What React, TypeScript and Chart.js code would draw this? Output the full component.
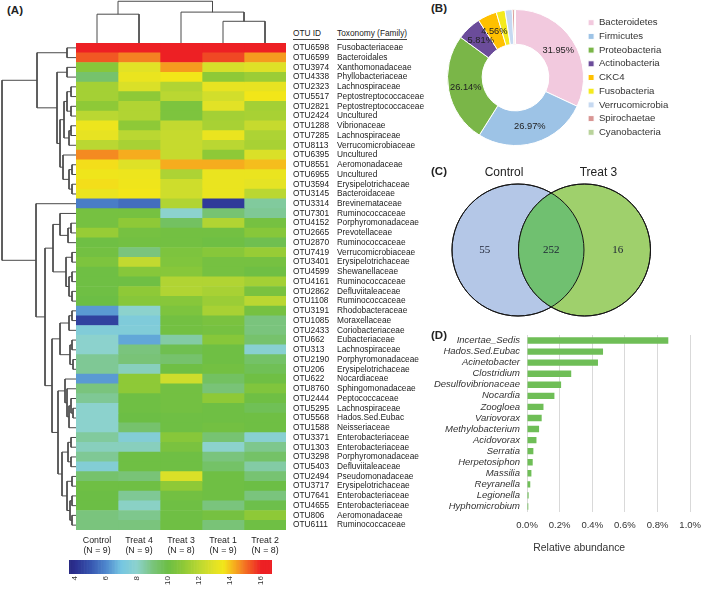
import React, { useEffect, useRef } from 'react';
import { Chart, registerables } from 'chart.js';

Chart.register(...registerables);

const SANS = "'Liberation Sans', Arial, Helvetica, sans-serif";
const NARROW = "'Liberation Sans Narrow', 'Arial Narrow', 'Liberation Sans', sans-serif";
const SERIF = "'Liberation Serif', 'Times New Roman', serif";
Chart.defaults.font.family = SANS;
Chart.defaults.color = '#222';

// ---------------- Panel A : heatmap ----------------
const groups = ['Control', 'Treat 4', 'Treat 3', 'Treat 1', 'Treat 2'];
const groupN = [9, 9, 8, 9, 8];

const otuIds = [
  'OTU6598', 'OTU6599', 'OTU3974', 'OTU4338', 'OTU2323', 'OTU5517', 'OTU2821', 'OTU2424', 'OTU1288', 'OTU7285',
  'OTU8113', 'OTU6395', 'OTU8551', 'OTU6955', 'OTU3594', 'OTU3145', 'OTU3314', 'OTU7301', 'OTU4152', 'OTU2665',
  'OTU2870', 'OTU7419', 'OTU3401', 'OTU4599', 'OTU4161', 'OTU2862', 'OTU1108', 'OTU3191', 'OTU1085', 'OTU2433',
  'OTU662', 'OTU313', 'OTU2190', 'OTU206', 'OTU622', 'OTU8760', 'OTU2444', 'OTU5295', 'OTU5568', 'OTU1588',
  'OTU3371', 'OTU1303', 'OTU3298', 'OTU5403', 'OTU2494', 'OTU3717', 'OTU7641', 'OTU4655', 'OTU806', 'OTU6111',
];

const families = [
  'Fusobacteriaceae', 'Bacteroidales', 'Xanthomonadaceae', 'Phyllobacteriaceae', 'Lachnospiraceae',
  'Peptostreptococcaceae', 'Peptostreptococcaceae', 'Uncultured', 'Vibrionaceae', 'Lachnospiraceae',
  'Verrucomicrobiaceae', 'Uncultured', 'Aeromonadaceae', 'Uncultured', 'Erysipelotrichaceae',
  'Bacteroidaceae', 'Brevinemataceae', 'Ruminococcaceae', 'Porphyromonadaceae', 'Prevotellaceae',
  'Ruminococcaceae', 'Verrucomicrobiaceae', 'Erysipelotrichaceae', 'Shewanellaceae', 'Ruminococcaceae',
  'Defluviitaleaceae', 'Ruminococcaceae', 'Rhodobacteraceae', 'Moraxellaceae', 'Coriobacteriaceae',
  'Eubacteriaceae', 'Lachnospiraceae', 'Porphyromonadaceae', 'Erysipelotrichaceae', 'Nocardiaceae',
  'Sphingomonadaceae', 'Peptococcaceae', 'Lachnospiraceae', 'Hados.Sed.Eubac', 'Neisseriaceae',
  'Enterobacteriaceae', 'Enterobacteriaceae', 'Porphyromonadaceae', 'Defluviitaleaceae', 'Pseudomonadaceae',
  'Erysipelotrichaceae', 'Enterobacteriaceae', 'Enterobacteriaceae', 'Aeromonadaceae', 'Ruminococcaceae',
];

// rows = OTUs, columns = Control, Treat 4, Treat 3, Treat 1, Treat 2
const heatValues = [
  [16.5, 16.5, 16.0, 16.5, 16.3],
  [15.3, 14.8, 16.0, 15.5, 14.5],
  [10.8, 13.0, 14.5, 12.7, 12.9],
  [9.3, 13.3, 13.6, 11.0, 11.3],
  [11.5, 12.8, 11.8, 13.2, 13.2],
  [11.5, 11.0, 12.0, 12.6, 13.6],
  [11.0, 11.8, 10.5, 13.0, 11.5],
  [12.0, 11.8, 10.5, 11.5, 11.6],
  [13.4, 11.0, 12.2, 11.6, 12.3],
  [13.2, 12.0, 12.3, 13.3, 11.7],
  [12.0, 11.6, 12.3, 12.0, 11.6],
  [14.7, 14.3, 12.3, 11.0, 12.8],
  [13.7, 12.9, 14.3, 14.3, 14.1],
  [13.5, 13.4, 11.7, 13.3, 13.3],
  [13.7, 13.5, 12.5, 13.3, 13.1],
  [13.3, 13.6, 12.5, 13.3, 12.0],
  [5.8, 5.5, 11.8, 4.3, 8.6],
  [10.3, 10.3, 8.0, 9.2, 8.7],
  [10.3, 11.0, 9.5, 11.8, 10.3],
  [11.2, 10.3, 10.2, 10.2, 10.8],
  [10.1, 10.2, 10.2, 10.1, 9.8],
  [10.2, 9.0, 10.5, 10.8, 11.2],
  [10.5, 12.2, 10.6, 10.3, 10.3],
  [10.1, 10.8, 10.8, 10.3, 10.1],
  [10.1, 10.1, 11.8, 11.8, 11.5],
  [10.1, 11.0, 11.8, 11.6, 10.4],
  [10.0, 10.8, 10.8, 11.3, 12.0],
  [6.3, 8.0, 10.5, 11.6, 10.3],
  [4.5, 7.4, 10.2, 10.4, 9.0],
  [7.5, 7.5, 10.2, 10.3, 9.0],
  [8.0, 6.5, 8.5, 10.8, 9.3],
  [8.0, 9.0, 9.8, 10.1, 7.8],
  [8.7, 9.1, 9.3, 10.1, 9.4],
  [8.7, 8.2, 10.1, 10.2, 9.7],
  [6.3, 11.0, 12.5, 9.5, 10.1],
  [9.0, 11.0, 10.2, 9.1, 10.6],
  [8.7, 10.1, 10.2, 11.0, 10.1],
  [8.0, 10.1, 10.2, 10.1, 9.7],
  [8.0, 10.0, 10.1, 10.1, 10.1],
  [8.0, 9.3, 10.1, 10.2, 10.1],
  [8.6, 7.6, 10.8, 9.2, 7.8],
  [8.2, 8.2, 10.4, 8.0, 8.8],
  [8.7, 10.1, 10.1, 9.0, 9.4],
  [7.6, 10.1, 10.1, 9.4, 8.5],
  [9.3, 9.1, 12.8, 10.1, 9.2],
  [10.1, 10.1, 11.0, 10.1, 10.0],
  [10.0, 8.7, 10.2, 10.1, 9.0],
  [10.0, 8.1, 10.1, 9.0, 9.9],
  [9.0, 8.8, 10.1, 10.3, 11.0],
  [9.0, 9.0, 10.1, 9.1, 10.1],
];

// linkage: [childA, childB, height]; child >= 0 is a leaf index, child < 0 is merge (-child - 1)
const colMerges = [
  [0, 1, 0.69],
  [3, 4, 0.52],
  [2, -2, 0.74],
  [-1, -3, 1.0],
];

const rowMerges = [
  [0, 1, 9], [2, 3, 9], [4, 5, 5], [6, 7, 5], [-3, -4, 9],
  [8, 9, 5], [-6, 10, 7], [-5, -7, 12], [12, 13, 4], [14, 15, 4],
  [-9, -10, 7], [11, -11, 13], [-8, -12, 16], [-2, -13, 19], [-1, -14, 39],
  [18, 19, 5], [-16, 20, 8], [17, -17, 16], [21, 22, 4], [23, 24, 4],
  [25, 26, 4], [-20, -21, 7], [-19, -22, 10], [-18, -23, 23], [27, 28, 4],
  [-25, 29, 7], [30, 31, 4], [32, 33, 3], [-27, -28, 6], [-26, -29, 16],
  [37, 38, 3], [36, -31, 5], [-32, 39, 7], [35, -33, 9], [34, -34, 11],
  [40, 41, 5], [42, 43, 5], [-36, -37, 8], [44, 45, 4], [46, 47, 4],
  [48, 49, 4], [-40, -41, 6], [-39, -42, 9], [-38, -43, 14], [-35, -44, 18],
  [-30, -45, 24], [-24, -46, 31], [16, -47, 40], [-15, -48, 74],
];

const colorbarTicks = [4, 6, 8, 10, 12, 14, 16];
const colorbarMin = 3.6;
const colorbarMax = 16.7;

// ---------------- Panel B : phyla ----------------
const phyla = ['Bacteroidetes', 'Firmicutes', 'Proteobacteria', 'Actinobacteria', 'CKC4', 'Fusobacteria', 'Verrucomicrobia', 'Spirochaetae', 'Cyanobacteria'];
const phylaPct = [31.95, 26.97, 26.14, 5.81, 4.56, 2.1, 1.7, 0.5, 0.27];
const phylaColors = ['#f2c9de', '#9dc3e6', '#7ab648', '#6b4c9a', '#ffc000', '#f4ea1e', '#c6d9f1', '#d99694', '#b9d39b'];

// ---------------- Panel C : Venn ----------------
const vennSets = ['Control', 'Treat 3'];
const vennCounts = [55, 252, 16];

// ---------------- Panel D : genera ----------------
const genera = ['Incertae_Sedis', 'Hados.Sed.Eubac', 'Acinetobacter', 'Clostridium', 'Desulfovibrionaceae', 'Nocardia', 'Zoogloea', 'Variovorax', 'Methylobacterium', 'Acidovorax', 'Serratia', 'Herpetosiphon', 'Massilia', 'Reyranella', 'Legionella', 'Hyphomicrobium'];
const abundance = [0.866, 0.466, 0.435, 0.271, 0.209, 0.168, 0.101, 0.09, 0.074, 0.058, 0.039, 0.035, 0.027, 0.02, 0.01, 0.008];
const abundanceTitle = 'Relative abundance';

// ---------------- helpers ----------------
const colorStops: [number, number[]][] = [
  [3.6, [40, 40, 128]], [4, [43, 47, 143]], [5, [55, 85, 175]], [6, [78, 135, 205]],
  [7, [118, 198, 226]], [8, [140, 210, 205]], [9, [122, 196, 125]], [10, [108, 190, 69]],
  [11, [142, 201, 55]], [12, [186, 215, 50]], [13, [226, 226, 38]], [13.6, [242, 230, 25]],
  [14.3, [246, 172, 30]], [15, [243, 112, 35]], [16, [237, 32, 36]],
];
const rgb = (c: number[]) => `rgb(${c.map((x) => Math.round(x)).join(',')})`;
function heatColor(v: number) {
  if (v <= colorStops[0][0]) return rgb(colorStops[0][1]);
  for (let k = 1; k < colorStops.length; k++) {
    const [v1, c1] = colorStops[k];
    if (v <= v1) {
      const [v0, c0] = colorStops[k - 1];
      const t = (v - v0) / (v1 - v0);
      return rgb(c0.map((c, i) => c + (c1[i] - c) * t));
    }
  }
  return rgb(colorStops[colorStops.length - 1][1]);
}

function dendroSegments(merges: number[][], leafPos: (i: number) => number) {
  const nodes: { p: number; h: number }[] = [];
  const ref = (c: number) => (c >= 0 ? { p: leafPos(c), h: 0 } : nodes[-c - 1]);
  const segs: { p: number; h: number }[][] = [];
  merges.forEach(([a, b, h]) => {
    const A = ref(a);
    const B = ref(b);
    segs.push([A, { p: A.p, h }, { p: B.p, h }, B]);
    nodes.push({ p: (A.p + B.p) / 2, h });
  });
  return segs;
}

const base: any = {
  responsive: false,
  animation: false,
  devicePixelRatio: 1,
  events: [],
  layout: { padding: 0, autoPadding: false },
};
const noPlugins = { legend: { display: false }, tooltip: { enabled: false }, title: { display: false } };
const lineDs = (pts: { x: number; y: number }[]) => ({
  data: pts, showLine: true, pointRadius: 0, borderColor: '#4a4a4a', borderWidth: 1, clip: false, tension: 0, fill: false,
});

// ---------------- configs ----------------
const rowDendroConfig = (): any => ({
  type: 'scatter',
  data: { datasets: dendroSegments(rowMerges, (i) => i + 0.5).map((s) => lineDs(s.map((q) => ({ x: q.h, y: q.p })))) },
  options: {
    ...base, plugins: noPlugins,
    scales: {
      x: { type: 'linear', display: false, min: 0, max: 76, reverse: true },
      y: { type: 'linear', display: false, min: 0, max: otuIds.length, reverse: true },
    },
  },
});

const colDendroConfig = (): any => ({
  type: 'scatter',
  data: { datasets: dendroSegments(colMerges, (i) => i + 0.5).map((s) => lineDs(s.map((q) => ({ x: q.p, y: q.h })))) },
  options: {
    ...base, plugins: noPlugins,
    scales: {
      x: { type: 'linear', display: false, min: 0, max: groups.length },
      y: { type: 'linear', display: false, min: 0, max: 1.03 },
    },
  },
});

const heatmapConfig = (): any => ({
  type: 'bar',
  data: {
    labels: otuIds,
    datasets: groups.map((g, j) => ({
      label: g,
      data: otuIds.map(() => 1),
      backgroundColor: heatValues.map((r) => heatColor(r[j])),
      borderWidth: 0,
      barPercentage: 1,
      categoryPercentage: 1,
    })),
  },
  options: {
    ...base, plugins: noPlugins, indexAxis: 'y',
    scales: {
      x: {
        type: 'linear', stacked: true, min: 0, max: groups.length, position: 'bottom',
        grid: { display: false, drawTicks: false }, border: { display: false },
        afterBuildTicks: (s: any) => { s.ticks = groups.map((_, j) => ({ value: j + 0.5 })); },
        afterFit: (s: any) => { s.height = 35; },
        ticks: {
          autoSkip: false, maxRotation: 0, padding: 5, font: { size: 8.8 }, color: '#222',
          callback: (v: number) => { const j = Math.floor(v); return [groups[j], `(N = ${groupN[j]})`]; },
        },
      },
      y: { type: 'category', stacked: true, display: false },
      yOtu: {
        type: 'category', labels: otuIds, position: 'right', offset: true, weight: 1,
        grid: { display: false, drawTicks: true, tickLength: 7 }, border: { display: false },
        ticks: { autoSkip: false, padding: 0, font: { size: 8.33, family: NARROW }, color: '#222' },
        afterFit: (s: any) => { s.width = 51; },
      },
      yFam: {
        type: 'category', labels: families, position: 'right', offset: true, weight: 2,
        grid: { display: false, drawTicks: false }, border: { display: false },
        ticks: { autoSkip: false, padding: 0, font: { size: 8.33 }, color: '#222' },
        afterFit: (s: any) => { s.width = 103; },
      },
    },
  },
});

const colorbarConfig = (): any => {
  const step = 0.1;
  const n = Math.round((colorbarMax - colorbarMin) / step);
  const mids: number[] = [];
  for (let k = 0; k < n; k++) mids.push(colorbarMin + (k + 0.5) * step);
  return {
    type: 'bar',
    data: {
      datasets: [{
        data: mids.map((v) => ({ x: v, y: 1 })),
        backgroundColor: mids.map(heatColor),
        borderWidth: 0, barPercentage: 1, categoryPercentage: 1,
      }],
    },
    options: {
      ...base, plugins: noPlugins,
      layout: { padding: { left: 9, right: 18, top: 0, bottom: 0 }, autoPadding: false },
      scales: {
        x: {
          type: 'linear', min: colorbarMin, max: colorbarMax, offset: false,
          grid: { display: false, drawTicks: false }, border: { display: false },
          afterBuildTicks: (s: any) => { s.ticks = colorbarTicks.map((v) => ({ value: v })); },
          afterFit: (s: any) => { s.height = 16; },
          ticks: { autoSkip: false, minRotation: 90, maxRotation: 90, padding: 2, font: { size: 8 }, color: '#333' },
        },
        y: { display: false, min: 0, max: 1 },
      },
    },
  };
};

const fixLegendWidth = (w: number) => ({
  id: 'fixLegendWidth',
  beforeLayout(chart: any) {
    const lg = chart.legend;
    if (lg && !lg.__fixed) {
      const orig = lg.fit.bind(lg);
      lg.fit = () => { orig(); lg.width = w; };
      lg.__fixed = true;
    }
  },
});

const donutLabels = {
  id: 'donutLabels',
  afterDatasetsDraw(chart: any) {
    const meta = chart.getDatasetMeta(0);
    const ctx = chart.ctx;
    ctx.save();
    ctx.font = `9.3px ${SANS}`;
    ctx.fillStyle = '#222';
    ctx.textAlign = 'center';
    ctx.textBaseline = 'middle';
    meta.data.forEach((arc: any, i: number) => {
      const v = phylaPct[i];
      if (v < 4) return;
      const p = arc.tooltipPosition(false);
      ctx.fillText(v.toFixed(2) + '%', p.x, p.y);
    });
    ctx.restore();
  },
};

const donutConfig = (): any => ({
  type: 'doughnut',
  data: {
    labels: phyla,
    datasets: [{ data: phylaPct, backgroundColor: phylaColors, borderColor: '#ffffff', borderWidth: 1 }],
  },
  options: {
    ...base, cutout: '49%',
    plugins: {
      tooltip: { enabled: false },
      legend: {
        display: true, position: 'right',
        labels: { boxWidth: 6, boxHeight: 6, padding: 4.1, font: { size: 9.6 }, color: '#333' },
      },
    },
  },
  plugins: [fixLegendWidth(125), donutLabels],
});

const vennPlugin = {
  id: 'vennPlugin',
  afterDatasetsDraw(chart: any) {
    const [A, B] = chart.getDatasetMeta(0).data as any[];
    const rA = A.options.radius;
    const rB = B.options.radius;
    const ctx = chart.ctx;
    ctx.save();
    ctx.beginPath();
    ctx.arc(A.x, A.y, rA, 0, Math.PI * 2);
    ctx.clip();
    ctx.beginPath();
    ctx.arc(B.x, B.y, rB, 0, Math.PI * 2);
    ctx.fillStyle = '#70c070';
    ctx.fill();
    ctx.restore();
    ctx.save();
    ctx.strokeStyle = '#151515';
    ctx.lineWidth = 1;
    [[A, rA], [B, rB]].forEach(([P, r]: any) => { ctx.beginPath(); ctx.arc(P.x, P.y, r, 0, Math.PI * 2); ctx.stroke(); });
    ctx.textAlign = 'center';
    ctx.textBaseline = 'middle';
    ctx.fillStyle = '#222';
    ctx.font = `12px ${SANS}`;
    ctx.fillText(vennSets[0], A.x - 14, A.y - rA - 11);
    ctx.fillText(vennSets[1], B.x + 14, B.y - rB - 11);
    const d = B.x - A.x;
    ctx.font = `11px ${SERIF}`;
    ctx.fillStyle = '#1c2233';
    ctx.fillText(String(vennCounts[0]), A.x - d / 2, A.y);
    ctx.fillText(String(vennCounts[1]), (A.x + B.x) / 2, A.y);
    ctx.fillText(String(vennCounts[2]), B.x + d / 2, B.y);
    ctx.restore();
  },
};

const vennConfig = (): any => ({
  type: 'bubble',
  data: {
    datasets: [{
      data: [{ x: 0, y: 0, r: 66 }, { x: 1, y: 0, r: 66 }],
      backgroundColor: ['#b4c7e7', '#9fd06c'],
      borderColor: '#151515', borderWidth: 1, clip: false,
    }],
  },
  options: {
    ...base, plugins: noPlugins,
    scales: {
      x: { type: 'linear', display: false, min: -1.323, max: 2.872 },
      y: { type: 'linear', display: false, min: -1, max: 1 },
    },
  },
  plugins: [vennPlugin],
});

const abundanceCaption = {
  id: 'abundanceCaption',
  afterDraw(chart: any) {
    const { ctx, chartArea } = chart;
    ctx.save();
    ctx.font = `10.4px ${SANS}`;
    ctx.fillStyle = '#333';
    ctx.textAlign = 'center';
    ctx.textBaseline = 'middle';
    ctx.fillText(abundanceTitle, chartArea.left + chartArea.width * 0.32, chartArea.bottom + 36);
    ctx.restore();
  },
};

const barConfig = (): any => ({
  type: 'bar',
  data: {
    labels: genera,
    datasets: [{ data: abundance, backgroundColor: '#6fbe57', borderWidth: 0, barPercentage: 0.9, categoryPercentage: 0.64 }],
  },
  options: {
    ...base, indexAxis: 'y',
    layout: { padding: { left: 0, right: 11, top: 7, bottom: 0 }, autoPadding: false },
    plugins: noPlugins,
    scales: {
      x: {
        type: 'linear', min: 0, max: 1.0,
        grid: { color: '#d9d9d9', drawTicks: false }, border: { display: false },
        afterFit: (s: any) => { s.height = 48; },
        ticks: { stepSize: 0.2, padding: 8, font: { size: 9.5 }, color: '#333', callback: (v: number) => v.toFixed(1) + '%' },
      },
      y: {
        type: 'category',
        grid: { display: true, drawOnChartArea: false, drawTicks: true, tickLength: 7, color: 'rgba(0,0,0,0)' },
        border: { display: false },
        afterFit: (s: any) => { s.width = 97; },
        ticks: { autoSkip: false, padding: 0, font: { size: 9.5, style: 'italic' }, color: '#333' },
      },
    },
  },
  plugins: [abundanceCaption],
});

// ---------------- components ----------------
function ChartBox({ x, y, w, h, make }: { x: number; y: number; w: number; h: number; make: () => any }) {
  const ref = useRef<HTMLCanvasElement>(null);
  useEffect(() => {
    const chart = new Chart(ref.current as HTMLCanvasElement, make());
    return () => chart.destroy();
  }, []);
  return <canvas ref={ref} width={w} height={h} style={{ position: 'absolute', left: x, top: y, width: w, height: h }} />;
}

function Txt({ x, y, size, bold, children }: { x: number; y: number; size: number; bold?: boolean; children: any }) {
  return (
    <div style={{ position: 'absolute', left: x, top: y, fontSize: size, lineHeight: 1, fontWeight: bold ? 'bold' : 'normal', whiteSpace: 'nowrap', fontFamily: SANS, color: '#222' }}>
      {children}
    </div>
  );
}

function Rule({ x, y, w }: { x: number; y: number; w: number }) {
  return <div style={{ position: 'absolute', left: x, top: y, width: w, height: 0, borderTop: '1px solid #444' }} />;
}

export default function App() {
  return (
    <div style={{ position: 'fixed', left: 0, top: 0, width: 709, height: 590, background: '#ffffff', overflow: 'hidden' }}>
      <Txt x={7} y={5} size={11.5} bold>(A)</Txt>
      <Txt x={293} y={29} size={8.3}>OTU ID</Txt>
      <Txt x={337} y={29} size={8.3}>Toxonomy (Family)</Txt>
      <Rule x={293} y={39} w={27} />
      <Rule x={337} y={39} w={70} />
      <ChartBox x={0} y={43} w={76} h={487} make={rowDendroConfig} />
      <ChartBox x={76} y={0} w={210} h={43} make={colDendroConfig} />
      <ChartBox x={76} y={38} w={364} h={527} make={heatmapConfig} />
      <ChartBox x={60} y={560} w={230} h={30} make={colorbarConfig} />

      <Txt x={431} y={3} size={11.5} bold>(B)</Txt>
      <ChartBox x={447} y={9} w={262} h={137} make={donutConfig} />

      <Txt x={431} y={166} size={11.5} bold>(C)</Txt>
      <ChartBox x={430} y={160} w={279} h={180} make={vennConfig} />

      <Txt x={431} y={330} size={11.5} bold>(D)</Txt>
      <ChartBox x={430} y={328} w={279} h={232} make={barConfig} />
    </div>
  );
}
